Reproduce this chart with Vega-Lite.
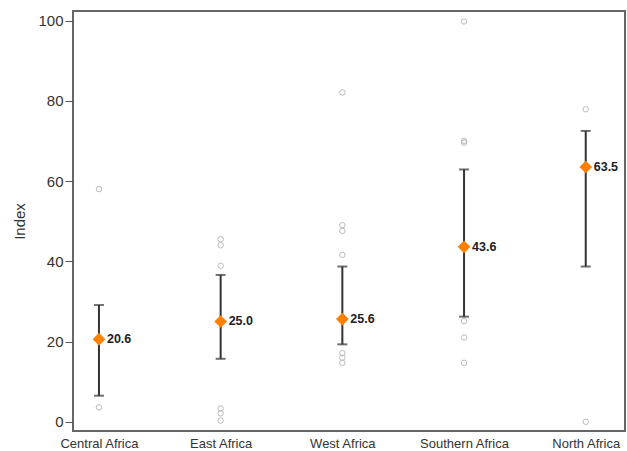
{
  "$schema": "https://vega.github.io/schema/vega-lite/v6.json",
  "width": 552,
  "height": 420,
  "autosize": {"type": "none"},
  "padding": {"left": 73, "top": 11, "right": 2, "bottom": 20},
  "background": "white",
  "config": {
    "view": {"stroke": "#666", "strokeWidth": 2},
    "font": "Liberation Sans"
  },
  "datasets": {
    "summary": [
      {"region": "Central Africa", "mean": 20.6, "lo": 6.5, "hi": 29.1, "label": "20.6"},
      {"region": "East Africa", "mean": 25.0, "lo": 15.7, "hi": 36.6, "label": "25.0"},
      {"region": "West Africa", "mean": 25.6, "lo": 19.3, "hi": 38.7, "label": "25.6"},
      {"region": "Southern Africa", "mean": 43.6, "lo": 26.2, "hi": 62.9, "label": "43.6"},
      {"region": "North Africa", "mean": 63.5, "lo": 38.7, "hi": 72.5, "label": "63.5"}
    ],
    "points": [
      {"region": "Central Africa", "value": 58.0},
      {"region": "Central Africa", "value": 3.6},
      {"region": "East Africa", "value": 45.5},
      {"region": "East Africa", "value": 44.0},
      {"region": "East Africa", "value": 38.9},
      {"region": "East Africa", "value": 3.3},
      {"region": "East Africa", "value": 2.1},
      {"region": "East Africa", "value": 0.3},
      {"region": "West Africa", "value": 82.1},
      {"region": "West Africa", "value": 49.0},
      {"region": "West Africa", "value": 47.6},
      {"region": "West Africa", "value": 41.6},
      {"region": "West Africa", "value": 17.1},
      {"region": "West Africa", "value": 16.0},
      {"region": "West Africa", "value": 14.7},
      {"region": "Southern Africa", "value": 99.8},
      {"region": "Southern Africa", "value": 70.0},
      {"region": "Southern Africa", "value": 69.6},
      {"region": "Southern Africa", "value": 25.1},
      {"region": "Southern Africa", "value": 21.0},
      {"region": "Southern Africa", "value": 14.7},
      {"region": "North Africa", "value": 77.9},
      {"region": "North Africa", "value": 0.0}
    ]
  },
  "encoding": {
    "x": {
      "field": "region",
      "type": "ordinal",
      "sort": ["Central Africa", "East Africa", "West Africa", "Southern Africa", "North Africa"],
      "scale": {"type": "point", "padding": 0.268, "align": 0.398},
      "axis": {
        "title": null,
        "labelAngle": 0,
        "ticks": false,
        "domain": false,
        "labelPadding": 6,
        "labelFontSize": 13,
        "labelColor": "#333",
        "labelOverlap": false,
        "labelBound": false
      }
    }
  },
  "layer": [
    {
      "data": {"name": "points"},
      "mark": {"type": "point", "shape": "circle", "filled": false, "stroke": "#bbbbbb", "strokeWidth": 1, "size": 30, "opacity": 1},
      "encoding": {
        "y": {
          "field": "value",
          "type": "quantitative",
          "scale": {"domain": [-2.3, 102.4], "nice": false, "zero": false},
          "axis": {
            "title": "Index",
            "titleFontSize": 15,
            "titleFontWeight": "normal",
            "titleColor": "#333",
            "titlePadding": 10,
            "values": [0, 20, 40, 60, 80, 100],
            "grid": false,
            "domain": false,
            "tickSize": 8,
            "tickColor": "#555",
            "labelPadding": 2,
            "labelFontSize": 15,
            "labelColor": "#333"
          }
        }
      }
    },
    {
      "data": {"name": "summary"},
      "mark": {"type": "rule", "color": "#333", "strokeWidth": 2},
      "encoding": {
        "y": {"field": "lo", "type": "quantitative"},
        "y2": {"field": "hi"}
      }
    },
    {
      "data": {"name": "summary"},
      "mark": {"type": "tick", "color": "#333", "thickness": 2, "size": 10, "orient": "horizontal"},
      "encoding": {"y": {"field": "lo", "type": "quantitative"}}
    },
    {
      "data": {"name": "summary"},
      "mark": {"type": "tick", "color": "#333", "thickness": 2, "size": 10, "orient": "horizontal"},
      "encoding": {"y": {"field": "hi", "type": "quantitative"}}
    },
    {
      "data": {"name": "summary"},
      "mark": {"type": "point", "shape": "diamond", "filled": true, "color": "#FF7F00", "size": 160, "opacity": 1},
      "encoding": {"y": {"field": "mean", "type": "quantitative"}}
    },
    {
      "data": {"name": "summary"},
      "mark": {"type": "text", "align": "left", "baseline": "middle", "dx": 8, "fontSize": 12.5, "fontWeight": "bold", "color": "#222"},
      "encoding": {
        "y": {"field": "mean", "type": "quantitative"},
        "text": {"field": "label"}
      }
    }
  ]
}
